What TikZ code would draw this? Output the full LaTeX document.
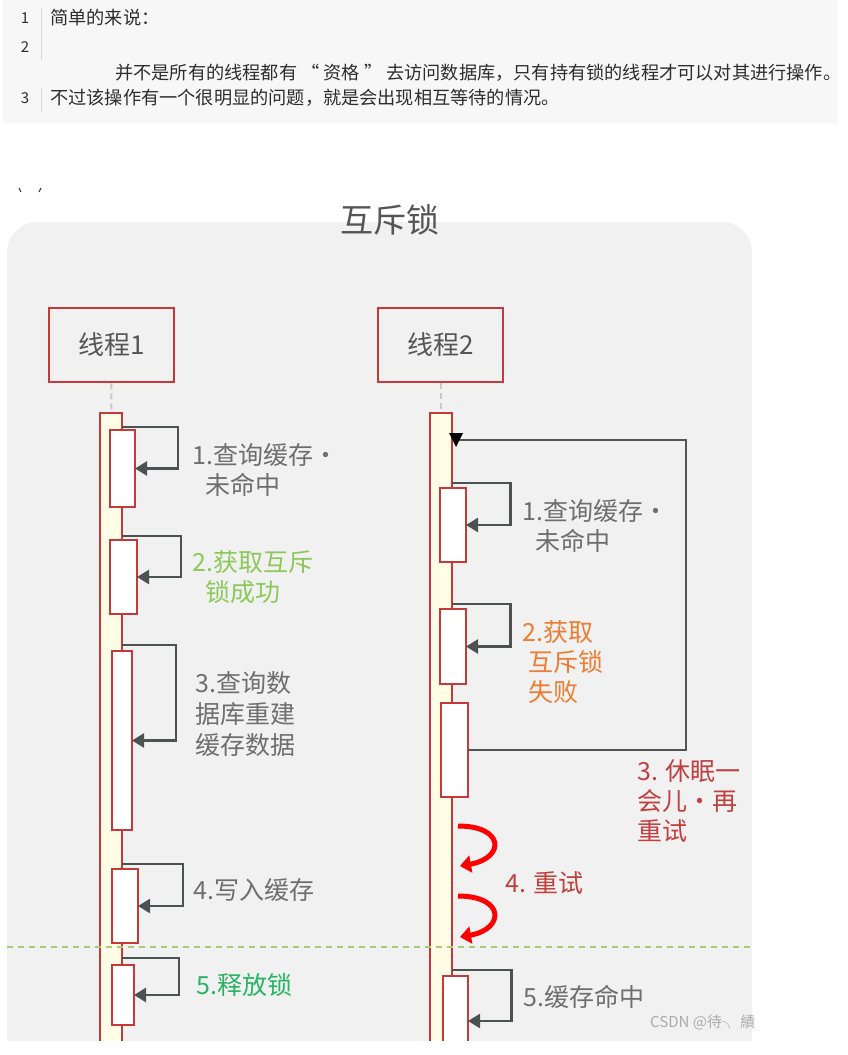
\documentclass[tikz,border=0pt]{standalone}
\usepackage{fontspec}
\setmainfont{Noto Sans CJK SC}
\usetikzlibrary{arrows.meta}

\definecolor{codebg}{RGB}{247,247,247}
\definecolor{codesep}{RGB}{215,215,215}
\definecolor{codeink}{RGB}{45,45,45}
\definecolor{panelgray}{RGB}{241,241,241}
\definecolor{lockred}{RGB}{196,58,58}
\definecolor{barfill}{RGB}{255,253,230}
\definecolor{loopgray}{RGB}{75,82,82}
\definecolor{labelgray}{RGB}{110,110,110}
\definecolor{titlegray}{RGB}{85,85,85}
\definecolor{okgreen}{RGB}{140,200,90}
\definecolor{freegreen}{RGB}{40,180,100}
\definecolor{failorange}{RGB}{237,125,49}
\definecolor{sleepred}{RGB}{192,64,64}
\definecolor{hotred}{RGB}{255,0,0}
\definecolor{splitgreen}{RGB}{170,200,120}
\definecolor{dashgray}{RGB}{200,200,200}

\begin{document}
\begin{tikzpicture}[x=1pt,y=-1pt,
	codetext/.style={font=\fontsize{18.2}{20}\selectfont, text=codeink, anchor=west, inner sep=0pt},
	lineno/.style={font=\fontsize{15}{18}\selectfont, text=codeink, inner sep=0pt},
	threadbox/.style={draw=lockred, line width=2.5pt, fill=panelgray, minimum width=125pt, minimum height=74pt, text=titlegray, font=\fontsize{26}{30}\selectfont},
	lifebar/.style={draw=lockred, line width=2pt, fill=barfill, minimum width=22pt, inner sep=0pt, outer sep=0pt, anchor=north},
	actbox/.style={draw=lockred, line width=2.5pt, fill=white, inner sep=0pt, outer sep=0pt, anchor=north west},
	selfloop/.style={draw=loopgray, line width=2.5pt, -{Triangle[length=12pt,width=14pt]}},
	lbl/.style={font=\fontsize{25}{30}\selectfont, align=left, anchor=base west, inner sep=0pt},
	retryarrow/.style={draw=hotred, line width=5pt, -{Triangle[length=11pt,width=17pt]}},
	lifedash/.style={draw=dashgray, line width=2pt, dash pattern=on 6pt off 4pt},
]
	\useasboundingbox (0,0) rectangle (847,1055);

	%code block
	\fill[codebg] (3,0) rectangle (838,123);
	\draw[codesep, line width=1pt] (41,8) -- (41,60);
	\draw[codesep, line width=1pt] (41,88) -- (41,112);
	\node[lineno] (no1) at (25,18) {1};
	\node[lineno] (no2) at (25,47) {2};
	\node[lineno] (no3) at (25,98) {3};
	\node[codetext] (code1) at (50,18) {简单的来说：};
	\node[codetext] (code2) at (115,73) {并不是所有的线程都有 “ 资格 ” 去访问数据库，只有持有锁的线程才可以对其进行操作。};
	\node[codetext] (code3) at (50,98) {不过该操作有一个很明显的问题，就是会出现相互等待的情况。};

	%stray marks
	\draw[codeink, line width=1pt] (19,188) -- (21,192);
	\draw[codeink, line width=1pt] (41,188) -- (39,192);

	\begin{scope}
	\clip (0,0) rectangle (847,1040);
	%panel
	\fill[panelgray, rounded corners=30pt] (7,222) rectangle (752,1100);
	\node[text=titlegray, font=\fontsize{33}{36}\selectfont] (title) at (390,220) {互斥锁};

	%threads
	\node[threadbox] (t1) at (111.5,345) {线程1};
	\node[threadbox] (t2) at (440.5,345) {线程2};
	\node[lifebar, minimum height=660pt] (bar1) at (111,413) {};
	\node[lifebar, minimum height=660pt] (bar2) at (440.5,413) {};
	\draw[lifedash] (t1) -- (bar1);
	\draw[lifedash] (t2) -- (bar2);

	%split line
	\draw[splitgreen, line width=1.5pt, dash pattern=on 6pt off 5pt] (7,947) -- (752,947);

	%activations, thread 1
	\node[actbox, minimum width=25pt, minimum height=77pt]  (a1) at (110,430) {};
	\node[actbox, minimum width=27pt, minimum height=74pt]  (a2) at (110,540) {};
	\node[actbox, minimum width=20pt, minimum height=179pt] (a3) at (112,651) {};
	\node[actbox, minimum width=26pt, minimum height=74pt]  (a4) at (112,869) {};
	\node[actbox, minimum width=22pt, minimum height=60pt]  (a5) at (112,965) {};

	%activations, thread 2
	\node[actbox, minimum width=26pt, minimum height=74pt]  (c1) at (440,488) {};
	\node[actbox, minimum width=26pt, minimum height=75pt]  (c2) at (440,609) {};
	\node[actbox, minimum width=27pt, minimum height=94pt]  (c3) at (441,703) {};
	\node[actbox, minimum width=25pt, minimum height=90pt]  (c4) at (443,976) {};

	%self calls
	\draw[selfloop] ([yshift=3pt]a1.north -| bar1.east) -- ++(56,0) |- (a1.east);
	\draw[selfloop] ([yshift=4pt]a2.north -| bar1.east) -- ++(59,0) |- (a2.east);
	\draw[selfloop] ([yshift=6pt]a3.north -| bar1.east) -- ++(54,0) |- (a3.east);
	\draw[selfloop] ([yshift=5pt]a4.north -| bar1.east) -- ++(61,0) |- (a4.east);
	\draw[selfloop] ([yshift=7pt]a5.north -| bar1.east) -- ++(57,0) |- (a5.east);
	\draw[selfloop] ([yshift=5pt]c1.north -| bar2.east) -- ++(59,0) |- (c1.east);
	\draw[selfloop] ([yshift=5pt]c2.north -| bar2.east) -- ++(59,0) |- (c2.east);
	\draw[selfloop] ([yshift=6pt]c4.north -| bar2.east) -- ++(60,0) |- (c4.east);

	%sleep and retry
	\coordinate (wake) at (456,440);
	\draw[titlegray, line width=1.5pt] (c3.east) -| (686,440) -- (wake);
	\fill[black] ([shift={(-7,-7)}]wake) -- ([shift={(7,-7)}]wake) -- ([shift={(0,7)}]wake) -- cycle;
	\coordinate (r1s) at (458,826);
	\coordinate (r1e) at (460,866);
	\coordinate (r2s) at (458,896);
	\coordinate (r2e) at (460,937);
	\draw[retryarrow] (r1s) .. controls (505,826) and (505,858) .. (r1e);
	\draw[retryarrow] (r2s) .. controls (505,896) and (505,929) .. (r2e);

	%labels
	\node[lbl, text=labelgray]  (l1) at (192,494.5) {1.查询缓存·\\\hspace*{13pt}未命中};
	\node[lbl, text=okgreen]    (l2) at (192,601.5) {2.获取互斥\\\hspace*{13pt}锁成功};
	\node[lbl, text=labelgray, font=\fontsize{25}{31}\selectfont] (l3) at (195,754.5) {3.查询数\\据库重建\\缓存数据};
	\node[lbl, text=labelgray]  (l4) at (193,899.5) {4.写入缓存};
	\node[lbl, text=freegreen]  (l5) at (196,994.5) {5.释放锁};
	\node[lbl, text=labelgray]  (m1) at (522,550.5) {1.查询缓存·\\\hspace*{13pt}未命中};
	\node[lbl, text=failorange] (m2) at (522,701.5) {2.获取\\\hspace*{6pt}互斥锁\\\hspace*{6pt}失败};
	\node[lbl, text=sleepred]   (m3) at (637,840.5) {3. 休眠一\\会儿·再\\重试};
	\node[lbl, text=sleepred]   (m4) at (505,892.5) {4. 重试};
	\node[lbl, text=labelgray]  (m5) at (523,1006.5) {5.缓存命中};
	\node[anchor=west, inner sep=0pt, text=black!33, font=\fontsize{15}{18}\selectfont] (mark) at (650,1022) {CSDN @待╮ 績};
	\end{scope}
\end{tikzpicture}
\end{document}
